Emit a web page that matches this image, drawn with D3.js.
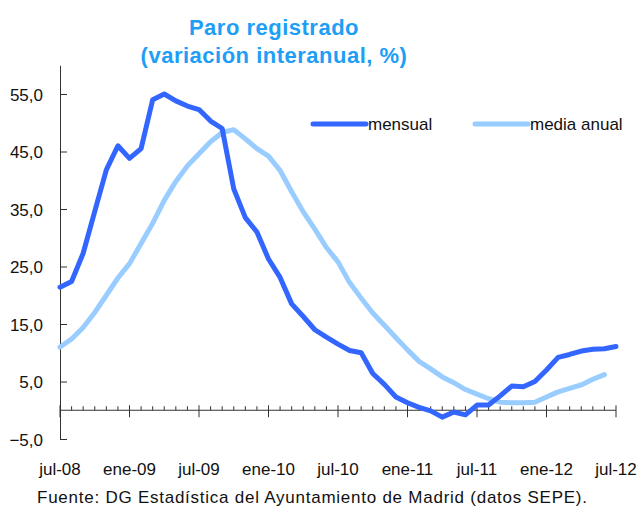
<!DOCTYPE html>
<html>
<head>
<meta charset="utf-8">
<script src="https://cdn.jsdelivr.net/npm/d3@7"></script>
<style>
  body { margin: 0; background: #fff; }
  svg text { font-family: "Liberation Sans", Arial, sans-serif; }
</style>
</head>
<body>
<div id="chart"></div>
<script>
// month index 0 = jul-08 ... 48 = jul-12
var mensual = [21.4, 22.4, 27.3, 34.6, 41.8, 46.0, 43.8, 45.5, 54.0, 55.0, 53.8, 52.9,
  52.3, 50.3, 49.0, 38.5, 33.5, 31.0, 26.3, 23.1, 18.5, 16.3, 14.0, 12.7,
  11.5, 10.4, 10.0, 6.4, 4.5, 2.3, 1.3, 0.5, -0.1, -1.2, -0.3, -0.8,
  0.9, 0.9, 2.5, 4.2, 4.1, 5.0, 7.0, 9.2, 9.7, 10.3, 10.6, 10.7, 11.1];

var mediaAnual = [11.0, 12.4, 14.4, 17.0, 20.0, 23.0, 25.5, 29.0, 32.5, 36.5, 39.8, 42.5,
  44.6, 46.7, 48.3, 48.8, 47.2, 45.5, 44.2, 41.7, 38.0, 34.5, 31.5, 28.3,
  25.8, 22.2, 19.5, 16.9, 14.8, 12.6, 10.5, 8.5, 7.2, 5.8, 4.8, 3.6,
  2.8, 2.0, 1.4, 1.3, 1.3, 1.4, 2.3, 3.2, 3.8, 4.4, 5.4, 6.2];

var xLabels = ["jul-08", "ene-09", "jul-09", "ene-10", "jul-10", "ene-11", "jul-11", "ene-12", "jul-12"];
var yTicks = [-5, 5, 15, 25, 35, 45, 55];
var seriesNames = ["mensual", "media anual"];
var colors = ["#3366ff", "#99ccff"];

var width = 637, height = 508;

var svg = d3.select("#chart").append("svg")
  .attr("width", width)
  .attr("height", height);

var x = d3.scaleLinear().domain([0, 48]).range([60, 616]);
var y = d3.scaleLinear().domain([-5, 60]).range([439, 65.25]);

var fmt = function(d) { return d3.format(".1f")(d).replace(".", ","); };

// title
var title = svg.append("text")
  .attr("text-anchor", "middle")
  .attr("fill", "#1e9ef5")
  .style("font-size", "22px")
  .style("font-weight", "bold")
  .style("letter-spacing", "0.5px");
title.append("tspan").attr("x", 274).attr("y", 35).text("Paro registrado");
title.append("tspan").attr("x", 274).attr("y", 63).text("(variación interanual, %)");

// y axis
var yAxis = d3.axisLeft(y)
  .tickValues(yTicks)
  .tickSizeInner(-7)
  .tickSizeOuter(0)
  .tickPadding(17)
  .tickFormat(fmt);

var gy = svg.append("g")
  .attr("transform", "translate(" + x(0) + ",0)")
  .call(yAxis);
gy.selectAll("path, line").attr("stroke", "#333");
gy.selectAll("text")
  .attr("fill", "#111")
  .style("font-size", "17px")
  .attr("dy", "0.36em");

// x axis at zero
var gx = svg.append("g");
gx.append("line")
  .attr("x1", x(0)).attr("x2", x(48))
  .attr("y1", y(0)).attr("y2", y(0))
  .attr("stroke", "#333");

gx.selectAll(".tick")
  .data(d3.range(0, 49))
  .enter().append("line")
  .attr("x1", function(d) { return x(d); })
  .attr("x2", function(d) { return x(d); })
  .attr("y1", function(d) { return d % 6 === 0 ? y(0) - 5 : y(0) - 4; })
  .attr("y2", function(d) { return d % 6 === 0 ? y(0) + 7 : y(0); })
  .attr("stroke", "#333");

svg.selectAll(".xlab")
  .data(xLabels)
  .enter().append("text")
  .attr("x", function(d, i) { return x(i * 6); })
  .attr("y", 475)
  .attr("text-anchor", "middle")
  .attr("fill", "#111")
  .style("font-size", "17px")
  .text(function(d) { return d; });

// lines
var line = d3.line()
  .x(function(d, i) { return x(i); })
  .y(function(d) { return y(d); });

[mediaAnual, mensual].forEach(function(s, k) {
  svg.append("path")
    .datum(s)
    .attr("fill", "none")
    .attr("stroke", k === 0 ? colors[1] : colors[0])
    .attr("stroke-width", 5)
    .attr("stroke-linejoin", "round")
    .attr("stroke-linecap", "round")
    .attr("d", line);
});

// legend
var legendX = [313, 475];
seriesNames.forEach(function(name, i) {
  svg.append("line")
    .attr("x1", legendX[i]).attr("x2", legendX[i] + 53)
    .attr("y1", 124).attr("y2", 124)
    .attr("stroke", colors[i])
    .attr("stroke-width", 5)
    .attr("stroke-linecap", "round");
  svg.append("text")
    .attr("x", legendX[i] + 55)
    .attr("y", 130)
    .attr("fill", "#111")
    .style("font-size", "17px")
    .text(name);
});

// source
svg.append("text")
  .attr("x", 37)
  .attr("y", 503)
  .attr("fill", "#111")
  .style("font-size", "17px")
  .attr("textLength", 550)
  .attr("lengthAdjust", "spacing")
  .text("Fuente: DG Estadística del Ayuntamiento de Madrid (datos SEPE).");
</script>
</body>
</html>
